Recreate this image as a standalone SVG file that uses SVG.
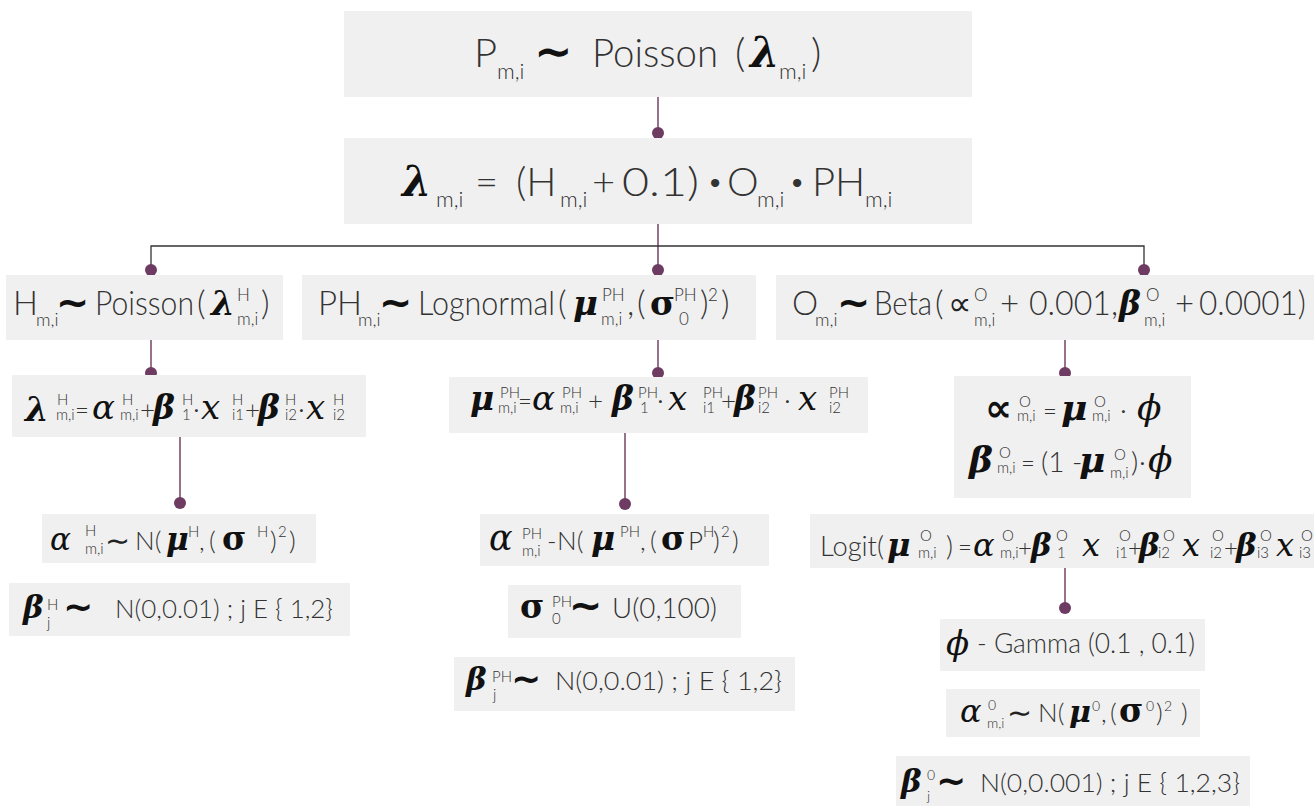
<svg xmlns="http://www.w3.org/2000/svg" width="1314" height="806" viewBox="0 0 1314 806">
<style>
.b{fill:#f0f0f0}
.t{font-family:Lato,'Liberation Sans',sans-serif;font-weight:300;fill:#333}
.gb{font-family:'DejaVu Serif',serif;font-weight:bold;font-style:normal;fill:#111}
.gi{font-family:'DejaVu Serif',serif;font-style:italic;font-weight:normal;fill:#111}
.gbi{font-family:'DejaVu Serif',serif;font-weight:bold;font-style:italic;fill:#111}
.tl{font-family:'DejaVu Sans',sans-serif;font-weight:bold;fill:#111}
.tn{font-family:'DejaVu Sans',sans-serif;font-weight:normal;fill:#222}
.c{stroke:#734463;stroke-width:1.5;fill:none}
.k{stroke:#333;stroke-width:1.3;fill:none}
.d{fill:#6e3b62}
</style>
<rect width="1314" height="806" fill="#fff"/>
<g id="connectors">
<line class="c" x1="658" y1="97" x2="658" y2="133"/>
<circle class="d" cx="658" cy="133" r="6"/>
<line class="c" x1="658" y1="224" x2="658" y2="270"/>
<polyline class="k" points="151,270 151,246 1144,246 1144,270"/>
<circle class="d" cx="151" cy="270" r="6"/>
<circle class="d" cx="658" cy="270" r="6"/>
<circle class="d" cx="1144" cy="270" r="6"/>
<line class="c" x1="151" y1="340" x2="151" y2="373"/>
<circle class="d" cx="151" cy="373" r="6"/>
<line class="c" x1="180" y1="437" x2="180" y2="503"/>
<circle class="d" cx="180" cy="503" r="6"/>
<line class="c" x1="658" y1="340" x2="658" y2="373"/>
<circle class="d" cx="658" cy="373" r="6"/>
<line class="c" x1="625" y1="433" x2="625" y2="504"/>
<circle class="d" cx="625" cy="504" r="6"/>
<line class="c" x1="1065" y1="340" x2="1065" y2="373"/>
<circle class="d" cx="1065" cy="373" r="6"/>
<line class="c" x1="1065" y1="567" x2="1065" y2="607"/>
<circle class="d" cx="1065" cy="608" r="6"/>
</g>

<g id="n-p">
<rect class="b" x="344" y="11" width="628" height="86"/>
<text class="t" font-size="40"><tspan x="474" y="67">P</tspan><tspan x="497" y="79" font-size="22">m,i</tspan><tspan class="tl" x="534" y="67" font-size="46">∼</tspan><tspan x="592" y="67" textLength="126" lengthAdjust="spacingAndGlyphs">Poisson</tspan><tspan x="735" y="67">(</tspan><tspan class="gbi" x="750" y="67" font-size="42">λ</tspan><tspan x="779" y="79" font-size="22">m,i</tspan><tspan x="811" y="67">)</tspan></text>
</g>

<g id="n-lambda">
<rect class="b" x="344" y="138" width="628" height="86"/>
<text class="t" font-size="40"><tspan class="gbi" x="402" y="196" font-size="42">λ</tspan><tspan x="436" y="207" font-size="22">m,i</tspan><tspan x="475" y="196">=</tspan><tspan x="516" y="196">(H</tspan><tspan x="560" y="207" font-size="22">m,i</tspan><tspan x="592" y="196">+</tspan><tspan x="622" y="196" textLength="77" lengthAdjust="spacingAndGlyphs">0.1)</tspan><tspan x="707" y="191" font-size="28">•</tspan><tspan x="727" y="196">O</tspan><tspan x="757" y="207" font-size="22">m,i</tspan><tspan x="789" y="191" font-size="28">•</tspan><tspan x="812" y="196">PH</tspan><tspan x="865" y="207" font-size="22">m,i</tspan></text>
</g>

<g id="n-h">
<rect class="b" x="6" y="275" width="277" height="65"/>
<text class="t" font-size="33"><tspan x="13" y="315">H</tspan><tspan x="36" y="326" font-size="18">m,i</tspan><tspan class="tl" x="56" y="316" font-size="40">∼</tspan><tspan x="95" y="315" textLength="99" lengthAdjust="spacingAndGlyphs">Poisson</tspan><tspan x="197" y="315">(</tspan><tspan class="gbi" x="211" y="315" font-size="34">λ</tspan><tspan x="237" y="301" font-size="17">H</tspan><tspan x="237" y="325" font-size="17">m,i</tspan><tspan x="261" y="315">)</tspan></text>
</g>

<g id="n-ph">
<rect class="b" x="302" y="275" width="454" height="65"/>
<text class="t" font-size="33"><tspan x="318" y="315">PH</tspan><tspan x="358" y="326" font-size="18">m,i</tspan><tspan class="tl" x="379" y="316" font-size="40">∼</tspan><tspan x="418" y="315" textLength="137" lengthAdjust="spacingAndGlyphs">Lognormal</tspan><tspan x="558" y="315">(</tspan><tspan class="gbi" x="573" y="315" font-size="34">μ</tspan><tspan x="602" y="301" font-size="17">PH</tspan><tspan x="601" y="325" font-size="17">m,i</tspan><tspan x="627" y="315">,</tspan><tspan x="637" y="315">(</tspan><tspan class="gb" x="650" y="315" font-size="34">σ</tspan><tspan x="674" y="301" font-size="17">PH</tspan><tspan x="679" y="325" font-size="17">0</tspan><tspan x="700" y="315">)</tspan><tspan x="708" y="301" font-size="17">2</tspan><tspan x="721" y="315">)</tspan></text>
</g>

<g id="n-o">
<rect class="b" x="776" y="275" width="538" height="65"/>
<text class="t" font-size="33"><tspan x="792" y="315">O</tspan><tspan x="815" y="326" font-size="18">m,i</tspan><tspan class="tl" x="837" y="316" font-size="40">∼</tspan><tspan x="874" y="315" textLength="58" lengthAdjust="spacingAndGlyphs">Beta</tspan><tspan x="935" y="315">(</tspan><tspan class="tn" x="948" y="315" font-size="33">∝</tspan><tspan x="974" y="301" font-size="17">O</tspan><tspan x="974" y="326" font-size="17">m,i</tspan><tspan x="1000" y="315">+</tspan><tspan x="1029" y="315" textLength="89" lengthAdjust="spacingAndGlyphs">0.001,</tspan><tspan class="gbi" x="1119" y="315" font-size="33">β</tspan><tspan x="1146" y="301" font-size="17">O</tspan><tspan x="1144" y="326" font-size="17">m,i</tspan><tspan x="1175" y="315">+</tspan><tspan x="1199" y="315" textLength="107" lengthAdjust="spacingAndGlyphs">0.0001)</tspan></text>
</g>

<g id="n-lambda-h">
<rect class="b" x="12" y="375" width="354" height="62"/>
<text class="t" font-size="15"><tspan class="gbi" x="25" y="421" font-size="34">λ</tspan><tspan x="57" y="405">H</tspan><tspan x="56" y="420">m,i</tspan><tspan x="75" y="419" font-size="24">=</tspan><tspan class="gi" x="92" y="419" font-size="34">α</tspan><tspan x="122" y="405">H</tspan><tspan x="120" y="420">m,i</tspan><tspan x="140" y="419" font-size="26">+</tspan><tspan class="gbi" x="153" y="419" font-size="33">β</tspan><tspan x="182" y="405">H</tspan><tspan x="182" y="420">1</tspan><tspan x="193" y="419" font-size="28">·</tspan><tspan class="gi" x="201" y="419" font-size="34">x</tspan><tspan x="232" y="405">H</tspan><tspan x="232" y="420">i1</tspan><tspan x="245" y="419" font-size="26">+</tspan><tspan class="gbi" x="258" y="419" font-size="33">β</tspan><tspan x="285" y="405">H</tspan><tspan x="285" y="420">i2</tspan><tspan x="298" y="419" font-size="28">·</tspan><tspan class="gi" x="306" y="419" font-size="34">x</tspan><tspan x="333" y="405">H</tspan><tspan x="333" y="420">i2</tspan></text>
</g>

<g id="n-alpha-h">
<rect class="b" x="42" y="514" width="274" height="49"/>
<text class="t" font-size="26"><tspan class="gi" x="50" y="550" font-size="31">α</tspan><tspan x="85" y="536" font-size="15">H</tspan><tspan x="85" y="554" font-size="15">m,i</tspan><tspan class="tn" x="105" y="551" font-size="30">∼</tspan><tspan x="135" y="550">N(</tspan><tspan class="gbi" x="166" y="550" font-size="31">μ</tspan><tspan x="188" y="537" font-size="15">H</tspan><tspan x="199" y="550">,</tspan><tspan x="209" y="550">(</tspan><tspan class="gb" x="222" y="550" font-size="33">σ</tspan><tspan x="257" y="537" font-size="15">H</tspan><tspan x="270" y="550">)</tspan><tspan x="278" y="537" font-size="15">2</tspan><tspan x="289" y="550">)</tspan></text>
</g>

<g id="n-beta-h">
<rect class="b" x="9" y="583" width="341" height="53"/>
<text class="t" font-size="26"><tspan class="gbi" x="23" y="618" font-size="31">β</tspan><tspan x="47" y="610" font-size="15">H</tspan><tspan x="47" y="628" font-size="15">j</tspan><tspan class="tl" x="63" y="619" font-size="36">∼</tspan><tspan x="115" y="618" textLength="218" lengthAdjust="spacingAndGlyphs">N(0,0.01) ; j E { 1,2}</tspan></text>
</g>

<g id="n-mu-ph">
<rect class="b" x="449" y="377" width="419" height="56"/>
<text class="t" font-size="15"><tspan class="gbi" x="470" y="410" font-size="33">μ</tspan><tspan x="500" y="398">PH</tspan><tspan x="498" y="413">m,i</tspan><tspan x="518" y="410" font-size="24">=</tspan><tspan class="gi" x="532" y="410" font-size="34">α</tspan><tspan x="562" y="398">PH</tspan><tspan x="560" y="413">m,i</tspan><tspan x="588" y="410" font-size="26">+</tspan><tspan class="gbi" x="612" y="410" font-size="33">β</tspan><tspan x="638" y="398">PH</tspan><tspan x="640" y="413">1</tspan><tspan x="657" y="410" font-size="28">·</tspan><tspan class="gi" x="668" y="410" font-size="34">x</tspan><tspan x="703" y="398">PH</tspan><tspan x="703" y="413">i1</tspan><tspan x="721" y="410" font-size="26">+</tspan><tspan class="gbi" x="734" y="410" font-size="33">β</tspan><tspan x="758" y="398">PH</tspan><tspan x="758" y="413">i2</tspan><tspan x="784" y="410" font-size="28">·</tspan><tspan class="gi" x="798" y="410" font-size="34">x</tspan><tspan x="829" y="398">PH</tspan><tspan x="829" y="413">i2</tspan></text>
</g>

<g id="n-alpha-ph">
<rect class="b" x="480" y="514" width="289" height="52"/>
<text class="t" font-size="26"><tspan class="gi" x="489" y="550" font-size="35">α</tspan><tspan x="522" y="539" font-size="15">PH</tspan><tspan x="522" y="556" font-size="15">m,i</tspan><tspan x="547" y="550">-</tspan><tspan x="557" y="550">N(</tspan><tspan class="gbi" x="591" y="550" font-size="33">μ</tspan><tspan x="620" y="537" font-size="15">PH</tspan><tspan x="640" y="550">,</tspan><tspan x="650" y="550">(</tspan><tspan class="gb" x="661" y="550" font-size="33">σ</tspan><tspan x="688" y="550">P</tspan><tspan x="703" y="537" font-size="15">H</tspan><tspan x="713" y="550">)</tspan><tspan x="721" y="537" font-size="15">2</tspan><tspan x="732" y="550">)</tspan></text>
</g>

<g id="n-sigma-ph">
<rect class="b" x="508" y="585" width="233" height="53"/>
<text class="t" font-size="27"><tspan class="gb" x="520" y="618" font-size="33">σ</tspan><tspan x="552" y="607" font-size="15">PH</tspan><tspan x="552" y="624" font-size="15">0</tspan><tspan class="tl" x="569" y="619" font-size="40">∼</tspan><tspan x="612" y="618" textLength="105" lengthAdjust="spacingAndGlyphs">U(0,100)</tspan></text>
</g>

<g id="n-beta-ph">
<rect class="b" x="454" y="657" width="341" height="54"/>
<text class="t" font-size="26"><tspan class="gbi" x="466" y="690" font-size="31">β</tspan><tspan x="492" y="682" font-size="15">PH</tspan><tspan x="493" y="700" font-size="15">j</tspan><tspan class="tl" x="511" y="691" font-size="36">∼</tspan><tspan x="555" y="690" textLength="227" lengthAdjust="spacingAndGlyphs">N(0,0.01) ; j E { 1,2}</tspan></text>
</g>

<g id="n-ab-o">
<rect class="b" x="954" y="376" width="237" height="122"/>
<text class="t" font-size="15"><tspan class="tl" x="985" y="421" font-size="38">∝</tspan><tspan x="1019" y="407">O</tspan><tspan x="1017" y="421">m,i</tspan><tspan x="1043" y="420" font-size="24">=</tspan><tspan class="gbi" x="1061" y="420" font-size="36">μ</tspan><tspan x="1094" y="407">O</tspan><tspan x="1092" y="421">m,i</tspan><tspan x="1120" y="420" font-size="28">·</tspan><tspan class="gi" x="1137" y="420" font-size="36">ϕ</tspan><tspan class="gbi" x="969" y="472" font-size="36">β</tspan><tspan x="999" y="458">O</tspan><tspan x="997" y="473">m,i</tspan><tspan x="1021" y="472" font-size="24">=</tspan><tspan x="1041" y="472" font-size="28">(1</tspan><tspan x="1072" y="472" font-size="28">-</tspan><tspan class="gbi" x="1079" y="472" font-size="36">μ</tspan><tspan x="1114" y="460">O</tspan><tspan x="1110" y="478">m,i</tspan><tspan x="1131" y="472" font-size="28">)</tspan><tspan x="1139" y="472" font-size="28">·</tspan><tspan class="gi" x="1148" y="472" font-size="36">ϕ</tspan></text>
</g>

<g id="n-logit">
<rect class="b" x="810" y="514" width="504" height="54"/>
<text class="t" font-size="15"><tspan x="820" y="556" font-size="27" textLength="64" lengthAdjust="spacingAndGlyphs">Logit(</tspan><tspan class="gbi" x="887" y="556" font-size="32">μ</tspan><tspan x="920" y="541">O</tspan><tspan x="918" y="558">m,i</tspan><tspan x="946" y="556" font-size="27">)</tspan><tspan x="958" y="556" font-size="24">=</tspan><tspan class="gi" x="973" y="556" font-size="32">α</tspan><tspan x="1002" y="541">O</tspan><tspan x="1000" y="558">m,i</tspan><tspan x="1018" y="556" font-size="24">+</tspan><tspan class="gbi" x="1031" y="556" font-size="31">β</tspan><tspan x="1056" y="541">O</tspan><tspan x="1057" y="558">1</tspan><tspan class="gi" x="1082" y="556" font-size="32">x</tspan><tspan x="1119" y="541">O</tspan><tspan x="1116" y="558">i1</tspan><tspan x="1128" y="556" font-size="24">+</tspan><tspan class="gbi" x="1139" y="556" font-size="31">β</tspan><tspan x="1163" y="541">O</tspan><tspan x="1158" y="558">i2</tspan><tspan class="gi" x="1182" y="556" font-size="32">x</tspan><tspan x="1212" y="541">O</tspan><tspan x="1210" y="558">i2</tspan><tspan x="1224" y="556" font-size="24">+</tspan><tspan class="gbi" x="1236" y="556" font-size="31">β</tspan><tspan x="1260" y="541">O</tspan><tspan x="1257" y="558">i3</tspan><tspan class="gi" x="1276" y="556" font-size="32">x</tspan><tspan x="1301" y="541">O</tspan><tspan x="1299" y="558">i3</tspan></text>
</g>

<g id="n-phi">
<rect class="b" x="940" y="619" width="265" height="52"/>
<text class="t" font-size="27"><tspan class="gi" x="946" y="655" font-size="34">ϕ</tspan><tspan x="977" y="653" textLength="218" lengthAdjust="spacingAndGlyphs">- Gamma (0.1 , 0.1)</tspan></text>
</g>

<g id="n-alpha-o">
<rect class="b" x="946" y="689" width="254" height="48"/>
<text class="t" font-size="26"><tspan class="gi" x="960" y="722" font-size="32">α</tspan><tspan x="988" y="710" font-size="14">0</tspan><tspan x="987" y="728" font-size="14">m,i</tspan><tspan class="tn" x="1007" y="723" font-size="30">∼</tspan><tspan x="1038" y="722">N(</tspan><tspan class="gbi" x="1069" y="722" font-size="30">μ</tspan><tspan x="1092" y="711" font-size="14">0</tspan><tspan x="1101" y="722">,</tspan><tspan x="1110" y="722">(</tspan><tspan class="gb" x="1119" y="722" font-size="33">σ</tspan><tspan x="1146" y="711" font-size="14">0</tspan><tspan x="1156" y="722">)</tspan><tspan x="1164" y="711" font-size="14">2</tspan><tspan x="1181" y="722">)</tspan></text>
</g>

<g id="n-beta-o">
<rect class="b" x="896" y="756" width="354" height="50"/>
<text class="t" font-size="26"><tspan class="gbi" x="901" y="792" font-size="31">β</tspan><tspan x="927" y="780" font-size="14">0</tspan><tspan x="927" y="801" font-size="14">j</tspan><tspan class="tl" x="936" y="793" font-size="36">∼</tspan><tspan x="980" y="792" textLength="260" lengthAdjust="spacingAndGlyphs">N(0,0.001) ; j E { 1,2,3}</tspan></text>
</g>
</svg>
